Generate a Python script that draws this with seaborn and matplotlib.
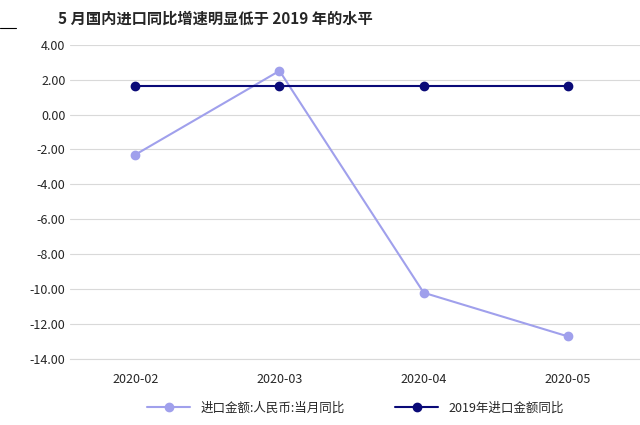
import matplotlib
matplotlib.use("Agg")
import matplotlib.pyplot as plt
import seaborn as sns
import pandas as pd

months = ["2020-02", "2020-03", "2020-04", "2020-05"]
import_yoy = [-2.3, 2.5, -10.2, -12.7]
yoy_2019 = [1.65, 1.65, 1.65, 1.65]

df = pd.DataFrame({"month": months, "a": import_yoy, "b": yoy_2019})

sns.set_style("white")
plt.rcParams["font.family"] = "sans-serif"
plt.rcParams["font.sans-serif"] = ["Noto Sans CJK SC", "DejaVu Sans"]
plt.rcParams["axes.unicode_minus"] = False
fig = plt.figure(figsize=(6.4, 4.25), dpi=100)
ax = fig.add_axes([0.11, 0.155, 0.89, 0.74])

ax.plot(df["month"], df["a"], color="#a0a0ec", marker="o", markersize=6, lw=1.5,
        label="进口金额:人民币:当月同比")
ax.plot(df["month"], df["b"], color="#0a0a78", marker="o", markersize=6, lw=1.5,
        label="2019年进口金额同比")

ax.set_ylim(-14, 4)
ax.set_yticks(range(-14, 5, 2))
ax.set_yticklabels([f"{v:.2f}" for v in range(-14, 5, 2)], fontsize=9)
ax.set_xlim(-0.45, 3.5)
ax.tick_params(axis="x", labelsize=9, length=0, pad=10)
ax.tick_params(axis="y", length=0)
ax.grid(axis="y", color="#d9d9d9", lw=0.8)
for s in ["top", "right", "left"]:
    ax.spines[s].set_visible(False)
ax.spines["bottom"].set_color("#d9d9d9")

ax.legend(loc="upper center", bbox_to_anchor=(0.5, -0.1), ncol=2, frameon=False,
          fontsize=9, handlelength=3.5, columnspacing=4)
fig.text(0.09, 0.955, "5 月国内进口同比增速明显低于 2019 年的水平", fontsize=11,
         fontweight="bold", va="center")
fig.add_artist(plt.Line2D([0.0, 0.025], [0.935, 0.935], color="black", lw=0.8))
fig.savefig("out.png", dpi=100)
